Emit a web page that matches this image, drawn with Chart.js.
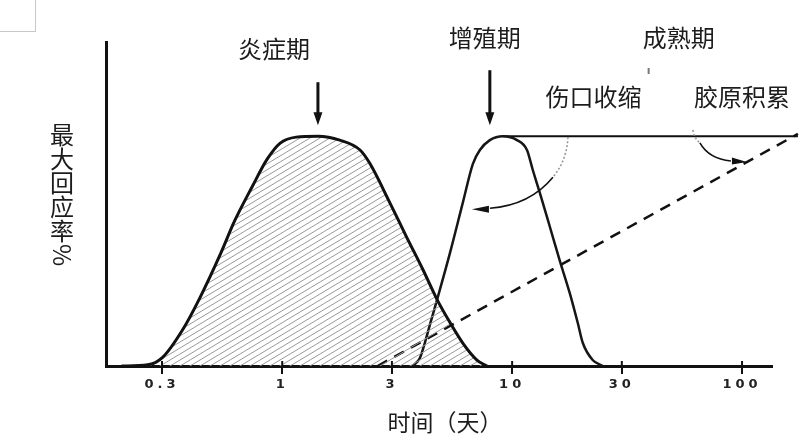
<!DOCTYPE html>
<html>
<head>
<meta charset="utf-8">
<script src="https://cdn.jsdelivr.net/npm/chart.js@4"></script>
<style>
  html, body { margin: 0; padding: 0; background: #fff; }
  #wrap { width: 800px; height: 436px; }
</style>
</head>
<body>
<div id="wrap"><canvas id="chart"></canvas></div>
<script>
const tickValues = [0.3, 1, 3, 10, 30, 100];
const tickLabels = ['0.3', '1', '3', '10', '30', '100'];

// 炎症期 (hatched)
const inflammationDays = [0.2, 0.26, 0.3, 0.37, 0.44, 0.54, 0.62, 0.74, 0.86, 0.98, 1.15, 1.43, 1.78, 2.18, 2.4, 2.94, 3.48, 4.09, 4.71, 5.36, 6.1, 7.03, 7.77];
const inflammationValues = [0, 0.5, 3.5, 16, 30, 49, 63, 78, 90, 97, 99.6, 100, 98.3, 94, 88.3, 71, 56, 42, 29, 19, 10, 2.6, 0];

// 增殖期
const proliferationDays = [3.7, 3.97, 4.17, 4.39, 4.71, 5.36, 6.1, 6.75, 7.24, 8.0, 9.12, 10.5, 11.6, 12.3, 13.2, 14.6, 16.1, 17.8, 19.3, 20.3, 22.4, 24.8];
const proliferationValues = [0, 3.5, 10, 18, 28.7, 49, 71, 88, 94, 98.3, 100, 98.3, 94, 85.3, 75.3, 60.5, 46, 31.8, 18.7, 10, 2.6, 0];

// 伤口收缩 (flat line after the peak)
const contractionDays = [9.12, 175];
const contractionValues = [100, 100];

// 胶原积累 (dashed)
const collagenDays = [2.6, 175];
const collagenValues = [0, 101];

const phaseLabels = ['炎症期', '增殖期', '成熟期'];
const processLabels = ['伤口收缩', '胶原积累'];
const xTitle = '时间（天）';
const yTitle = ['最', '大', '回', '应', '率', '%'];

function points(days, values) {
    return days.map((d, i) => ({ x: d, y: values[i] }));
}

function hatch() {
    const c = document.createElement('canvas');
    c.width = 10;
    c.height = 6;
    const g = c.getContext('2d');
    g.strokeStyle = '#999';
    g.lineWidth = 1;
    for (let k = -1; k <= 1; k++) {
        g.beginPath();
        g.moveTo(-10, 12 + 6 * k);
        g.lineTo(20, -6 + 6 * k);
        g.stroke();
    }
    return g.createPattern(c, 'repeat');
}

function downArrow(ctx, x, top, tip) {
    ctx.lineWidth = 3;
    ctx.beginPath();
    ctx.moveTo(x, top);
    ctx.lineTo(x, tip - 10);
    ctx.stroke();
    ctx.beginPath();
    ctx.moveTo(x - 4.5, tip - 13);
    ctx.lineTo(x + 4.5, tip - 13);
    ctx.lineTo(x, tip);
    ctx.closePath();
    ctx.fill();
}

function curvedArrow(ctx, ox, oy, grey, solid, head) {
    // grey dotted start, then solid black end with an arrow head
    ctx.lineWidth = 1.6;
    ctx.strokeStyle = '#9a9a9a';
    ctx.setLineDash([2, 2]);
    ctx.beginPath();
    ctx.moveTo(ox + grey[0], oy + grey[1]);
    ctx.quadraticCurveTo(ox + grey[2], oy + grey[3], ox + grey[4], oy + grey[5]);
    ctx.stroke();
    ctx.setLineDash([]);
    ctx.strokeStyle = '#111';
    ctx.beginPath();
    ctx.moveTo(ox + grey[4], oy + grey[5]);
    ctx.quadraticCurveTo(ox + solid[0], oy + solid[1], ox + solid[2], oy + solid[3]);
    ctx.stroke();
    ctx.beginPath();
    ctx.moveTo(ox + head[0], oy + head[1]);
    ctx.lineTo(ox + head[2], oy + head[3] - 3.5);
    ctx.lineTo(ox + head[2], oy + head[3] + 3.5);
    ctx.closePath();
    ctx.fill();
}

const notes = {
    id: 'notes',
    beforeDraw(chart) {
        chart.ctx.letterSpacing = '4px';
    },
    afterDraw(chart) {
        const { ctx, chartArea: a, scales: { x, y } } = chart;
        ctx.save();
        ctx.letterSpacing = '0px';
        ctx.strokeStyle = '#111';
        ctx.fillStyle = '#111';

        // inner part of the tick marks
        ctx.lineWidth = 2;
        tickValues.forEach(v => {
            const p = x.getPixelForValue(v);
            ctx.beginPath();
            ctx.moveTo(p, a.bottom - 5);
            ctx.lineTo(p, a.bottom);
            ctx.stroke();
        });

        // phase arrows
        const peak = y.getPixelForValue(100);
        downArrow(ctx, x.getPixelForValue(1.43), peak - 54, peak - 11);
        downArrow(ctx, x.getPixelForValue(8.0), peak - 66, peak - 11);

        // 伤口收缩 arrow, from the flat line back to the curve
        curvedArrow(ctx, x.getPixelForValue(9.12), peak,
            [65, 1, 64, 24, 50, 41], [27, 69, -13, 72], [-31, 73, -14, 73]);
        // 胶原积累 arrow, onto the dashed line
        curvedArrow(ctx, x.getPixelForValue(105), y.getPixelForValue(88.8),
            [-54, -32, -53, -24, -47, -19], [-38, -3, -16, -1], [0, 0, -15, -1]);

        // texts
        ctx.fillStyle = '#1c1c1c';
        ctx.textAlign = 'center';
        ctx.textBaseline = 'middle';
        ctx.font = '24px "Noto Sans CJK SC"';
        ctx.fillText(phaseLabels[0], x.getPixelForValue(0.92), y.getPixelForValue(138));
        ctx.fillText(phaseLabels[1], x.getPixelForValue(7.6), y.getPixelForValue(142.7));
        ctx.fillText(phaseLabels[2], x.getPixelForValue(53), y.getPixelForValue(142.7));
        ctx.fillText(processLabels[0], x.getPixelForValue(22.6), y.getPixelForValue(117));
        ctx.fillText(processLabels[1], x.getPixelForValue(100), y.getPixelForValue(117));

        ctx.font = '23px "Noto Sans CJK SC"';
        ctx.fillText(xTitle, (a.left + a.right) / 2 + 6, a.bottom + 56);

        ctx.font = '24px "Noto Sans CJK SC"';
        const tx = a.left - 44;
        yTitle.forEach((ch, i) => {
            const ty = a.top + 93 + i * 24;
            if (ch === '%') {
                ctx.save();
                ctx.translate(tx, ty);
                ctx.rotate(Math.PI / 2);
                ctx.fillText(ch, 0, 0);
                ctx.restore();
            } else {
                ctx.fillText(ch, tx, ty);
            }
        });

        // small stray mark under 成熟期 and the grey box in the corner
        ctx.strokeStyle = '#777';
        ctx.lineWidth = 2;
        ctx.beginPath();
        const mx = x.getPixelForValue(53) - 30;
        ctx.moveTo(mx, a.top + 26);
        ctx.lineTo(mx, a.top + 32);
        ctx.stroke();
        ctx.strokeStyle = '#c8c8c8';
        ctx.lineWidth = 1;
        ctx.strokeRect(-1.5, -1.5, 37, 33);
        ctx.restore();
    }
};

new Chart(document.getElementById('chart'), {
    type: 'line',
    data: {
        datasets: [{
            label: phaseLabels[0],
            data: points(inflammationDays, inflammationValues),
            borderColor: '#111',
            borderWidth: 3,
            fill: 'origin',
            backgroundColor: hatch(),
            cubicInterpolationMode: 'monotone',
            pointRadius: 0
        }, {
            label: phaseLabels[1],
            data: points(proliferationDays, proliferationValues),
            borderColor: '#161616',
            borderWidth: 2.5,
            fill: false,
            cubicInterpolationMode: 'monotone',
            pointRadius: 0
        }, {
            label: processLabels[0],
            data: points(contractionDays, contractionValues),
            borderColor: '#111',
            borderWidth: 2,
            fill: false,
            clip: false,
            pointRadius: 0
        }, {
            label: processLabels[1],
            data: points(collagenDays, collagenValues),
            borderColor: '#111',
            borderWidth: 2.5,
            borderDash: [11, 8],
            fill: false,
            clip: false,
            pointRadius: 0
        }]
    },
    options: {
        responsive: true,
        maintainAspectRatio: false,
        animation: false,
        layout: { padding: { left: 106, top: 42, right: 28, bottom: 0 } },
        plugins: { legend: { display: false }, tooltip: { enabled: false } },
        scales: {
            x: {
                type: 'logarithmic',
                min: 0.1712,
                max: 135,
                afterBuildTicks: s => { s.ticks = tickValues.map(v => ({ value: v })); },
                afterFit: s => { s.height = 70; },
                ticks: {
                    autoSkip: false,
                    maxRotation: 0,
                    padding: 3,
                    color: '#222',
                    font: { family: 'DejaVu Sans', weight: 'bold', size: 13 },
                    callback: (v, i) => tickLabels[i]
                },
                grid: { display: true, drawOnChartArea: false, drawTicks: true, tickLength: 8, color: '#111', lineWidth: 2 },
                border: { display: true, color: '#111', width: 3 }
            },
            y: {
                min: 0,
                max: 141,
                afterFit: s => { s.width = 0; },
                ticks: { display: false },
                grid: { display: false, drawTicks: false },
                border: { display: true, color: '#111', width: 3 }
            }
        }
    },
    plugins: [notes]
});
</script>
</body>
</html>
